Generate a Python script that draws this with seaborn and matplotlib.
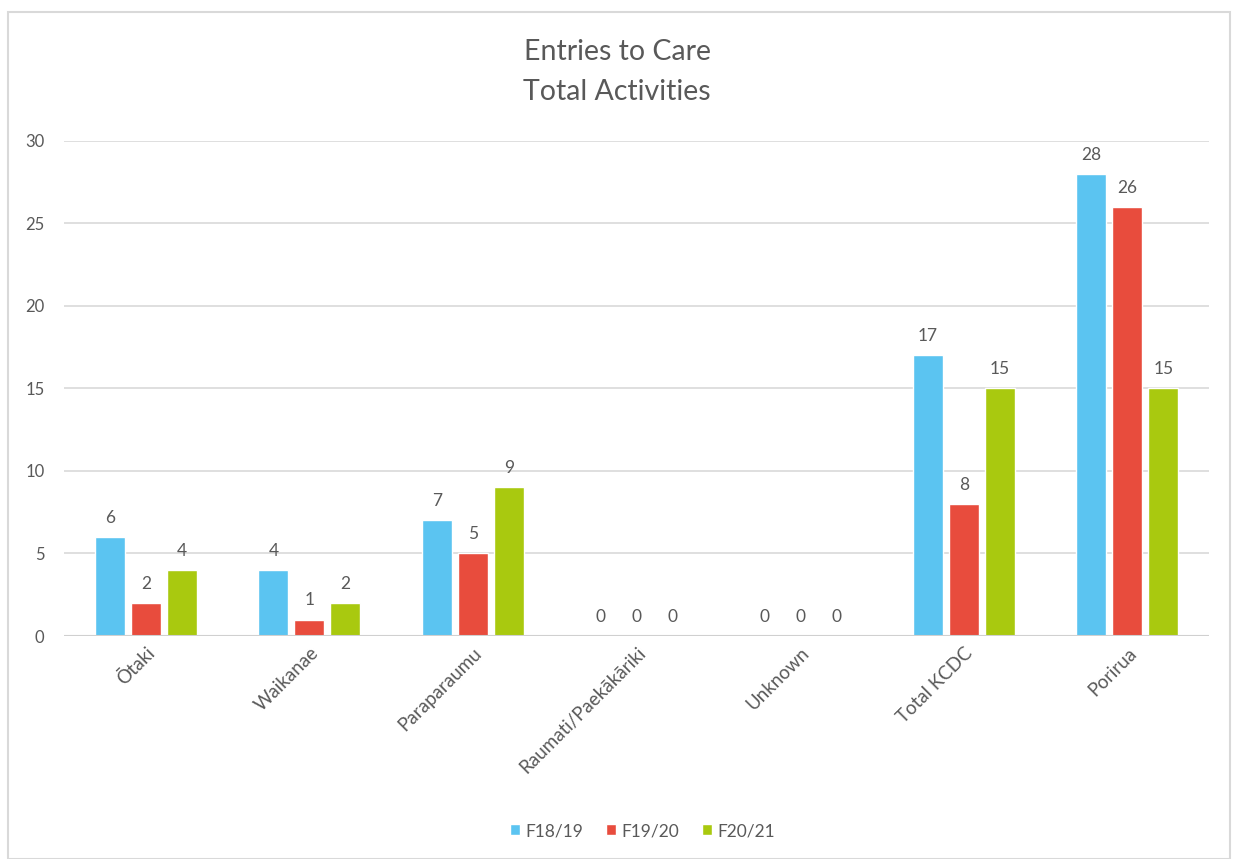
import matplotlib
matplotlib.use("Agg")
import matplotlib.pyplot as plt
from matplotlib.patches import Rectangle
import seaborn as sns
import pandas as pd

categories = ["Ōtaki", "Waikanae", "Paraparaumu", "Raumati/Paekākāriki",
              "Unknown", "Total KCDC", "Porirua"]
series_names = ["F18/19", "F19/20", "F20/21"]
f18_19 = [6, 4, 7, 0, 0, 17, 28]
f19_20 = [2, 1, 5, 0, 0, 8, 26]
f20_21 = [4, 2, 9, 0, 0, 15, 15]
colors = ["#5BC4F1", "#E84C3D", "#A9C90F"]
y_ticks = [0, 5, 10, 15, 20, 25, 30]

rows = []
for name, vals in zip(series_names, [f18_19, f19_20, f20_21]):
    for cat, v in zip(categories, vals):
        rows.append({"Area": cat, "Year": name, "Count": v})
df = pd.DataFrame(rows)

sns.set_style("white")
plt.rcParams["font.family"] = ["Lato", "DejaVu Sans"]
text_color = "#595959"

fig = plt.figure(figsize=(12.34, 8.59), dpi=100)
ax = fig.add_axes([0.0519, 0.2596, 0.928, 0.5763])

sns.barplot(data=df, x="Area", y="Count", hue="Year", palette=colors,
            order=categories, hue_order=series_names,
            width=0.66, gap=0.167, ax=ax, saturation=1, errorbar=None)

ax.set_ylim(0, 30)
ax.set_xlim(-0.5, len(categories) - 0.5)
ax.set_yticks(y_ticks)
ax.set_yticklabels([str(t) for t in y_ticks], fontsize=12, color=text_color)
ax.yaxis.grid(True, color="#D9D9D9", linewidth=1.2)
ax.set_axisbelow(True)
for s in ax.spines.values():
    s.set_visible(False)
ax.axhline(0, color="#D0D0D0", linewidth=1.5, zorder=1)
ax.tick_params(axis="both", length=0, pad=14)
ax.tick_params(axis="x", pad=6)
ax.set_xlabel("")
ax.set_ylabel("")
plt.setp(ax.get_xticklabels(), rotation=45, ha="right", rotation_mode="anchor",
         fontsize=13.5, color=text_color)

for cont in ax.containers:
    ax.bar_label(cont, labels=[f"{int(v)}" for v in cont.datavalues],
                 padding=8, fontsize=12.5, color=text_color)

leg = ax.legend(loc="center", bbox_to_anchor=(0.505, -0.394), ncol=3,
                frameon=False, fontsize=12.5, handlelength=0.6, handleheight=0.6,
                handletextpad=0.3, columnspacing=1.3)
for t in leg.get_texts():
    t.set_color(text_color)

fig.text(0.5, 0.9395, "Entries to Care", ha="center", va="center",
         fontsize=20.5, color=text_color)
fig.text(0.5, 0.893, "Total Activities", ha="center", va="center",
         fontsize=20.5, color=text_color)

fig.patches.append(Rectangle((8 / 1234, 0.0), 1222 / 1234, 1 - 12 / 859,
                             transform=fig.transFigure, fill=False,
                             edgecolor="#D9D9D9", linewidth=1.5))

fig.savefig("out.png", dpi=100, facecolor="white")
